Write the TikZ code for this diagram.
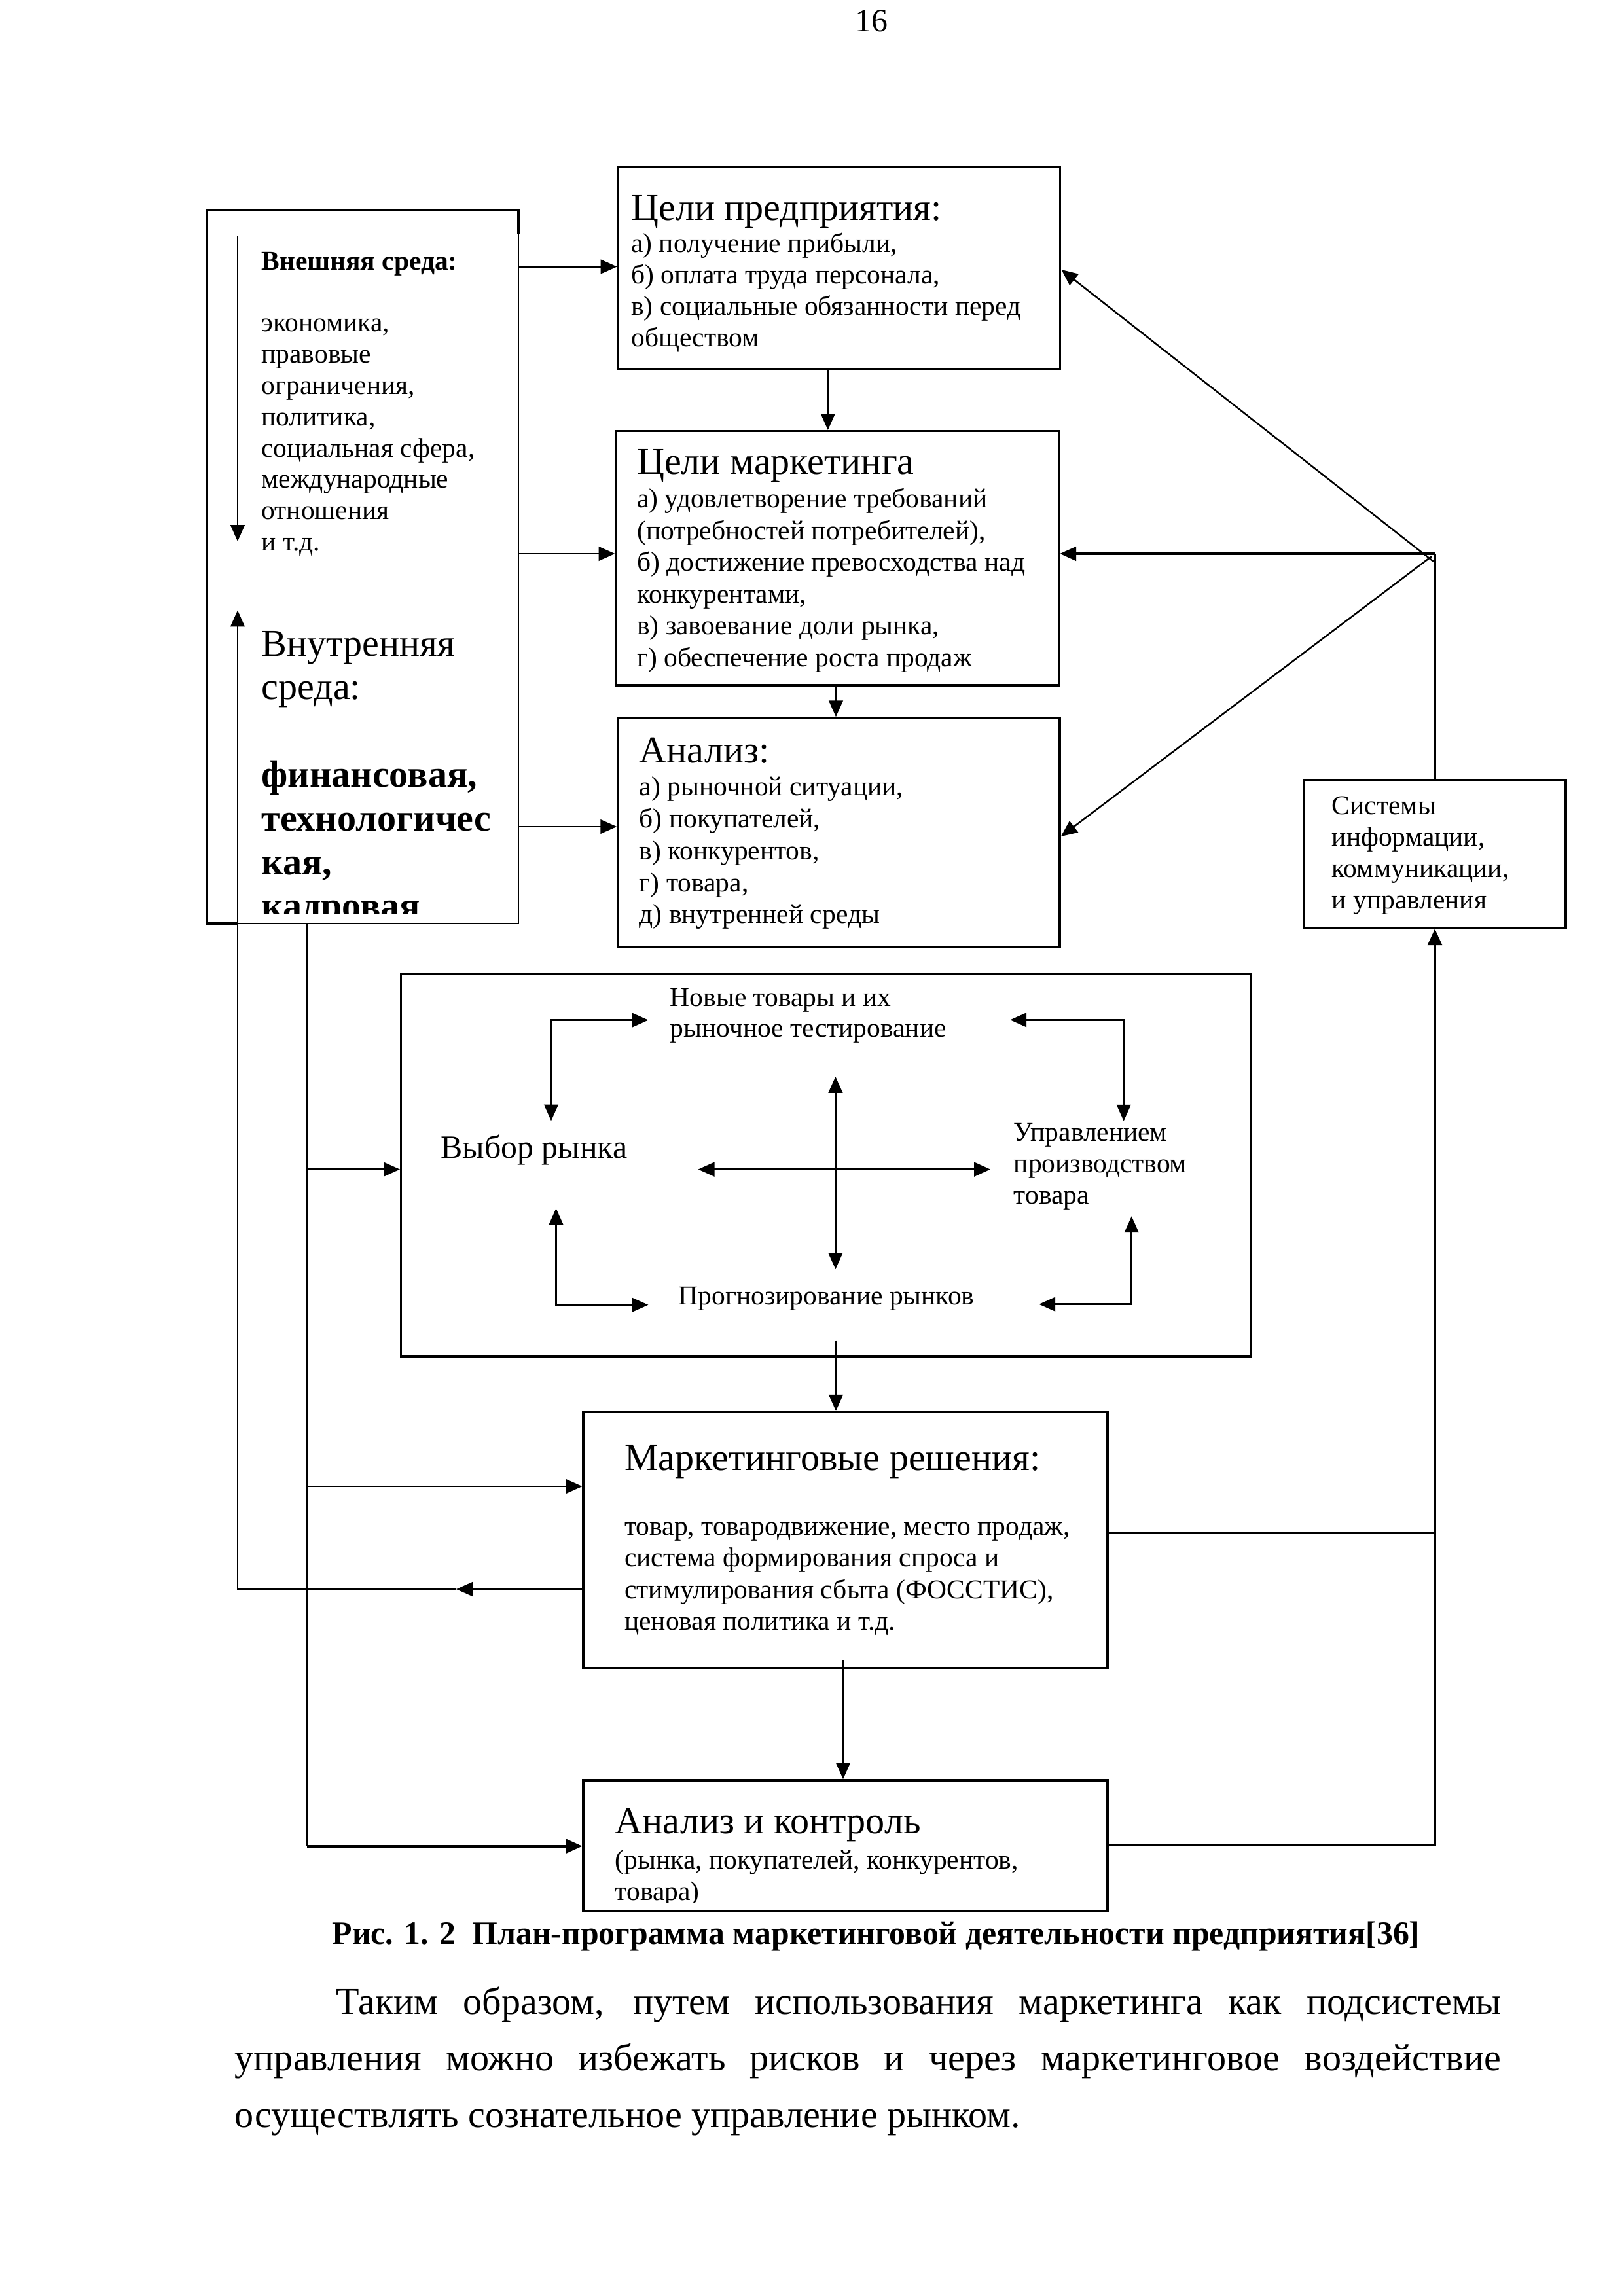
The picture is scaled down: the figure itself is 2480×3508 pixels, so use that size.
\documentclass[tikz,border=0pt]{standalone}
\usepackage{fontspec}
\setmainfont{Liberation Serif}
\usetikzlibrary{arrows.meta,fit}
\tikzset{
  boxst/.style={draw, line width=0.85pt, inner sep=0pt},
  conn/.style={line width=0.6pt},
  thk/.style={line width=0.85pt},
  thn/.style={line width=0.45pt},
  arr/.style={conn, -{Triangle[length=6pt,width=5.2pt]}},
  darr/.style={conn, {Triangle[length=6pt,width=5.2pt]}-{Triangle[length=6pt,width=5.2pt]}},
  tline/.style={anchor=base west, inner sep=0pt},
  fs10/.style={font=\fontsize{10pt}{11.5pt}\selectfont},
  fs10b/.style={font=\fontsize{10pt}{11.5pt}\selectfont\bfseries},
  fs12/.style={font=\fontsize{12pt}{13.8pt}\selectfont},
  fs12b/.style={font=\fontsize{12pt}{13.8pt}\selectfont\bfseries},
  fs14/.style={font=\fontsize{14pt}{16.1pt}\selectfont},
  fs14b/.style={font=\fontsize{14pt}{16.1pt}\selectfont\bfseries},
}
\newcommand\tblock[6]{\foreach \myline [count=\myi] in {#6}{\node[tline,#5] (#1\myi) at (#2,{#3+(\myi-1)*(#4)}) {\myline};}}
\begin{document}
\begin{tikzpicture}[x=0.0084667cm,y=-0.0084667cm]
\fill[white] (0,0) rectangle (2480,3508);
\useasboundingbox (0,0) rectangle (2480,3508);

% page number
\node[anchor=base, inner sep=0pt, fs12] (pg) at (1331,48) {16};

% ---------- environment box ----------
\node[inner sep=0pt, fit={(316,321) (792,1411)}] (env) {};
\draw[thk] (363,1411) -- (316,1411) -- (316,321) -- (792,321) -- (792,357);
\draw[thn] (792,357) -- (792,1411) -- (363,1411);
\node[tline, fs10b] (ext) at (398.7,412.9) {Внешняя среда:};
\tblock{envl}{398.7}{506.7}{47.85}{fs10}{{экономика,},{правовые},{ограничения,},{политика,},{социальная сфера,},{международные},{отношения},{и т.д.}}
\tblock{intl}{398.7}{1002.6}{65.8}{fs14}{{Внутренняя},{среда:}}
\begin{scope}
\clip (320,1100) rectangle (790,1395.6);
\tblock{intb}{398.7}{1202.3}{67}{fs14b}{{финансовая,},{технологичес},{кая,},{кадровая}}
\end{scope}
\draw[arr] (363,360.5) -- (363,827);

% ---------- top boxes ----------
\node[boxst, fit={(944.3,254.3) (1619.7,564.6)}] (b1) {};
\node[tline, fs14] (b1h) at (963.5,336) {Цели предприятия:};
\tblock{b1l}{963.5}{385}{48.3}{fs10}{{а) получение прибыли,},{б) оплата труда персонала,},{в) социальные обязанности перед},{обществом}}

\node[boxst, fit={(941.2,658.7) (1617.5,1047)}] (b2) {};
\node[tline, fs14] (b2h) at (972.4,724.4) {Цели маркетинга};
\tblock{b2l}{972.4}{775.7}{48.5}{fs10}{{а) удовлетворение требований},{(потребностей потребителей),},{б) достижение превосходства над},{конкурентами,},{в) завоевание доли рынка,},{г) обеспечение роста продаж}}

\node[boxst, fit={(944,1097) (1619,1447)}] (b3) {};
\node[tline, fs14] (b3h) at (976,1165) {Анализ:};
\tblock{b3l}{976}{1215.7}{48.8}{fs10}{{а) рыночной ситуации,},{б) покупателей,},{в) конкурентов,},{г) товара,},{д) внутренней среды}}

% systems box
\node[boxst, fit={(1992,1192) (2392,1417.4)}] (sys) {};
\tblock{sysl}{2034}{1244.2}{48.1}{fs10}{{Системы},{информации,},{коммуникации,},{и управления}}

% ---------- central box ----------
\node[boxst, line width=0.75pt, fit={(612.5,1488) (1911.7,2073)}] (cb) {};
\tblock{nt}{1023}{1537}{47.5}{fs10}{{Новые товары и их},{рыночное тестирование}}
\node[tline, fs12] (vr) at (672.7,1769.8) {Выбор рынка};
\tblock{up}{1548}{1743.3}{48.3}{fs10}{{Управлением},{производством},{товара}}
\node[tline, fs10] (pr) at (1036,1993.5) {Прогнозирование рынков};

\coordinate (e1a) at (842,1712.4);   \coordinate (e1b) at (990.4,1558.6);
\coordinate (e2a) at (849.5,1846.3); \coordinate (e2b) at (990.4,1993.7);
\coordinate (e3a) at (1543.3,1558.3);\coordinate (e3b) at (1716.7,1712.7);
\coordinate (e4a) at (1587.3,1992.7);\coordinate (e4b) at (1728.7,1858.3);
\coordinate (cvt) at (1276.4,1644.9);\coordinate (cvb) at (1276.4,1939.2);
\coordinate (chl) at (1066.6,1786.6);\coordinate (chr) at (1513,1786.6);
\draw[darr] (e1a) |- (e1b);
\draw[darr] (e2a) |- (e2b);
\draw[darr] (e3a) -| (e3b);
\draw[darr] (e4a) -| (e4b);
\draw[darr] (cvt) -- (cvb);
\draw[darr, line width=0.75pt] (chl) -- (chr);

% ---------- bottom boxes ----------
\node[boxst, fit={(891.2,2157.4) (1692,2548.3)}] (mr) {};
\node[tline, fs14] (mrh) at (953.4,2246.7) {Маркетинговые решения:};
\tblock{mrl}{953.4}{2345.5}{48.3}{fs10}{{товар, товародвижение, место продаж,},{система формирования спроса и},{стимулирования сбыта (ФОССТИС),},{ценовая политика и т.д.}}

\node[boxst, fit={(891.2,2720) (1692,2920)}] (ak) {};
\node[tline, fs14] (akh) at (939,2801.5) {Анализ и контроль};
\begin{scope}
\clip (895,2820) rectangle (1688,2906);
\tblock{akl}{939}{2855.7}{48}{fs10}{{(рынка, покупателей, конкурентов,},{товара)}}
\end{scope}

% ---------- connectors ----------
\draw[arr] (env.east |- 0,407.5) -- (b1.west |- 0,407.5);
\draw[arr] (env.east |- 0,846) -- (b2.west |- 0,846);
\draw[arr] (env.east |- 0,1263) -- (b3.west |- 0,1263);
\draw[arr] (b1.south -| 1264.8,0) -- (b2.north -| 1264.8,0);
\draw[arr] (b2.south -| 1277,0) -- (b3.north -| 1277,0);

\coordinate (jn) at (2192,846);
\coordinate (jd1) at (2190,858);
\coordinate (jd2) at (2187,850);
\draw[conn, line width=0.75pt] (sys.north) -- (jn);
\draw[arr, line width=0.75pt] (jn) -- (b2.east |- jn);
\draw[arr] (jd1) -- (b1.east |- 0,412);
\draw[arr] (jd2) -- (b3.east |- 0,1278);

\draw[arr] (cb.south -| 1277,0) ++(0,-26) -- (mr.north -| 1277,0);
\draw[arr] (mr.south -| 1288,0) ++(0,-14) -- (ak.north -| 1288,0);

\coordinate (rc) at (2192,2818.8);
\draw[thk] (mr.east |- 0,2342.3) -- (2192,2342.3);
\draw[thk, -{Triangle[length=6pt,width=5.2pt]}] (ak.east |- rc) -- (rc) -- (sys.south);

\coordinate (lt) at (469,1411);
\coordinate (lb) at (469,2820.7);
\draw[thk] (env.south -| lt) -- (lb);
\draw[thk, -{Triangle[length=6pt,width=5.2pt]}] (lb) -- (ak.west |- lb);
\draw[arr] (469,1786.6) -- (cb.west |- 0,1786.6);
\draw[arr] (469,2271) -- (mr.west |- 0,2271);

\coordinate (mh) at (697,2428);
\draw[arr] (mr.west |- mh) -- (mh);
\draw[arr] (mh) -- (363,2428) -- (363,932.5);

% ---------- caption and text ----------
\node[tline, fs12b] (cap) at (506.8,2970.5) {Рис. 1. 2\ \ План-программа маркетинговой деятельности предприятия[36]};
\node[tline, fs14] (p1) at (512.5,3077.7) {\makebox[429pt][s]{Таким образом, путем использования маркетинга как подсистемы}};
\node[tline, fs14] (p2) at (358,3163.8) {\makebox[466pt][s]{управления можно избежать рисков и через маркетинговое воздействие}};
\node[tline, fs14] (p3) at (358,3250) {осуществлять сознательное управление рынком.};
\end{tikzpicture}
\end{document}
